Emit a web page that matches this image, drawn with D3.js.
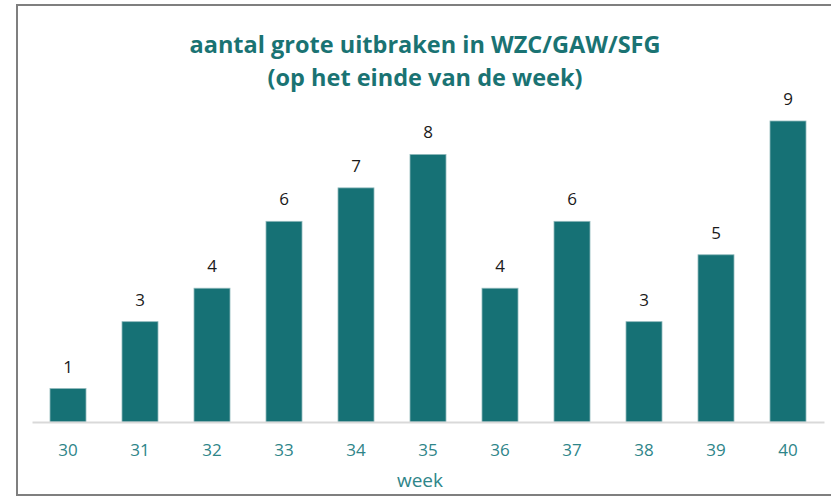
<!DOCTYPE html>
<html>
<head>
<meta charset="utf-8">
<script src="https://cdn.jsdelivr.net/npm/d3@7"></script>
<style>
  body { margin: 0; background: #fff; }
  svg { display: block; }
</style>
</head>
<body>
<svg id="chart" width="831" height="498"></svg>
<script>
const weeks = ['30', '31', '32', '33', '34', '35', '36', '37', '38', '39', '40'];
const outbreaks = [1, 3, 4, 6, 7, 8, 4, 6, 3, 5, 9];
const titleLines = ['aantal grote uitbraken in WZC/GAW/SFG', '(op het einde van de week)'];

const width = 831;
const height = 498;
const margin = { top: 110, right: 7, bottom: 76, left: 32 };
const teal = '#167175';
const font = 'Open Sans, sans-serif';

const svg = d3.select('#chart');

// frame round the chart
svg.append('rect')
  .attr('x', 17)
  .attr('y', 5)
  .attr('width', 830)
  .attr('height', 490)
  .attr('fill', '#fff')
  .attr('stroke', '#7f7f7f')
  .attr('stroke-width', 2);

const x = d3.scaleBand()
  .domain(weeks)
  .range([margin.left, width - margin.right])
  .paddingInner(0.5)
  .paddingOuter(0.25);

const baseline = height - margin.bottom;
const y = d3.scaleLinear()
  .domain([0, 9])
  .range([baseline, baseline - 301]);

// bars
svg.append('g')
  .selectAll('rect')
  .data(outbreaks)
  .join('rect')
  .attr('x', (d, i) => x(weeks[i]))
  .attr('y', (d) => y(d))
  .attr('width', x.bandwidth())
  .attr('height', (d) => y(0) - y(d))
  .attr('fill', teal)
  .attr('stroke', '#8fb9bb')
  .attr('stroke-width', 0.8);

// value labels
svg.append('g')
  .selectAll('text')
  .data(outbreaks)
  .join('text')
  .attr('x', (d, i) => x(weeks[i]) + x.bandwidth() / 2)
  .attr('y', (d) => y(d) - 16)
  .attr('text-anchor', 'middle')
  .attr('font-family', font)
  .attr('font-size', 17)
  .attr('fill', '#1a1a1a')
  .text((d) => d);

// x axis
const axis = svg.append('g')
  .attr('transform', `translate(0, ${baseline})`)
  .call(d3.axisBottom(x).tickSize(0).tickPadding(22));
axis.select('.domain')
  .attr('stroke', '#d9d9d9')
  .attr('stroke-width', 2);
axis.selectAll('text')
  .attr('font-family', font)
  .attr('font-size', 17)
  .attr('fill', '#2e8589');

svg.append('text')
  .attr('x', 420)
  .attr('y', 487)
  .attr('text-anchor', 'middle')
  .attr('font-family', font)
  .attr('font-size', 19)
  .attr('fill', '#2e8589')
  .text('week');

// title
svg.append('g')
  .selectAll('text')
  .data(titleLines)
  .join('text')
  .attr('x', 425)
  .attr('y', (d, i) => 53 + i * 33)
  .attr('text-anchor', 'middle')
  .attr('font-family', font)
  .attr('font-weight', 'bold')
  .attr('font-size', 23.5)
  .attr('fill', '#1a7373')
  .text((d) => d);
</script>
</body>
</html>
